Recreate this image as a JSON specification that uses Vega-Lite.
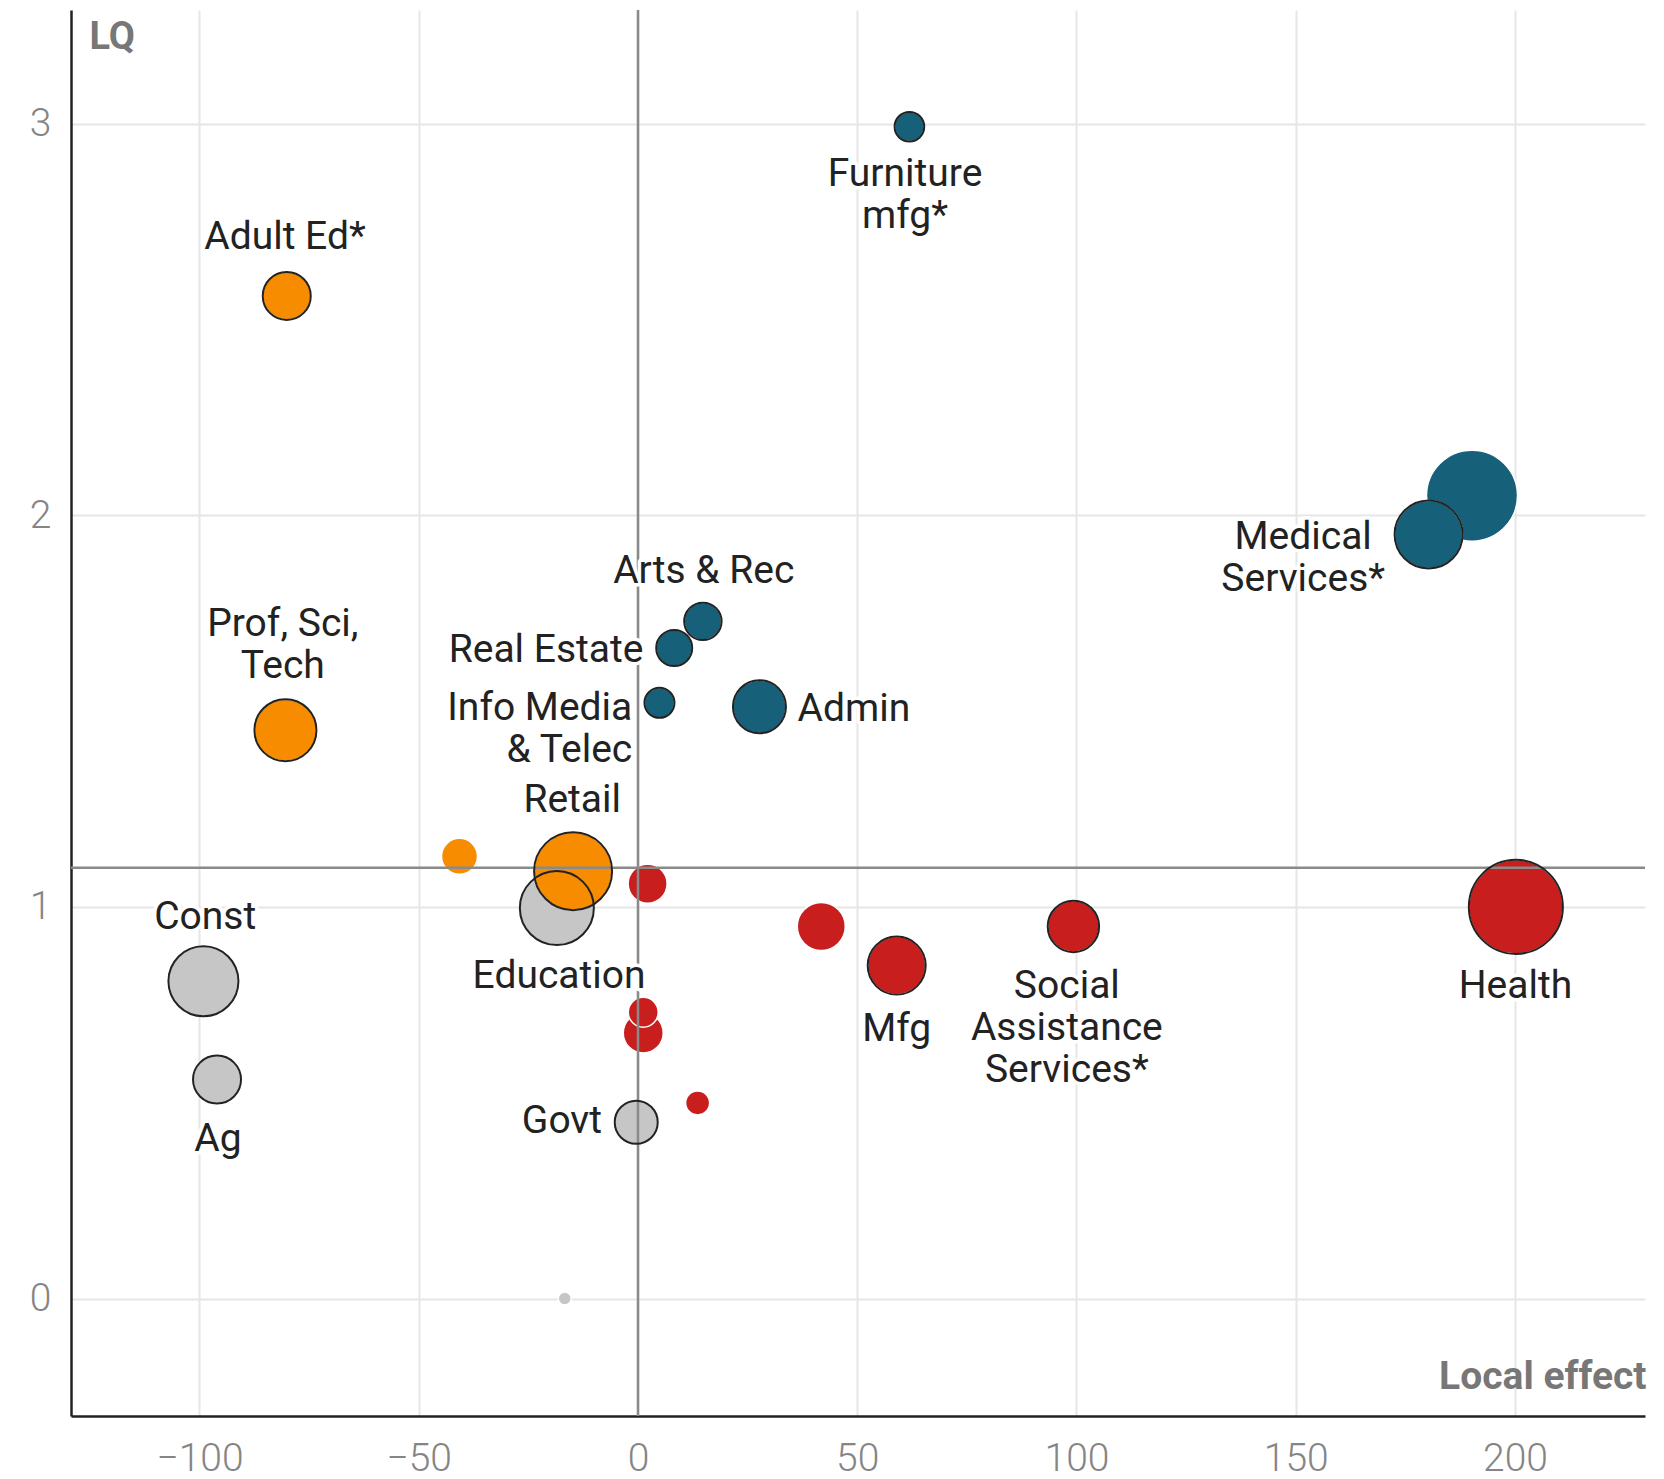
{
  "$schema": "https://vega.github.io/schema/vega-lite/v6.json",
  "width": 1574,
  "height": 1406,
  "autosize": {"type": "none"},
  "padding": {"left": 71, "top": 10, "right": 19, "bottom": 63},
  "background": "white",
  "config": {"view": {"stroke": null}, "font": "Roboto"},
  "datasets": {
    "industries": [
      {"name": "Medical Services (all)", "label": null, "side": null, "effect": 190.2, "lq": 2.05, "jobs": 2070, "group": "Specialized, growing"},
      {"name": "Medical Services", "label": "Medical|Services*", "side": "below", "effect": 180.3, "lq": 1.951, "jobs": 1156, "group": "Specialized, growing", "lx": 151.7, "ly": 1.913},
      {"name": "Health", "label": "Health", "side": "below", "effect": 200.2, "lq": 1.0, "jobs": 2209, "group": "Not specialized, growing", "lx": 200.1, "ly": 0.768},
      {"name": "Education", "label": "Education", "side": "below", "effect": -18.5, "lq": 0.997, "jobs": 1369, "group": "Not specialized, shrinking", "lx": -18.0, "ly": 0.793},
      {"name": "Retail", "label": "Retail", "side": "above", "effect": -14.8, "lq": 1.091, "jobs": 1521, "group": "Specialized, shrinking", "lx": -15.0, "ly": 1.243},
      {"name": "Construction", "label": "Const", "side": "above", "effect": -99.1, "lq": 0.81, "jobs": 1225, "group": "Not specialized, shrinking", "lx": -98.7, "ly": 0.944},
      {"name": "Professional, Scientific, Technical", "label": "Prof, Sci,|Tech", "side": "above", "effect": -80.4, "lq": 1.451, "jobs": 961, "group": "Specialized, shrinking", "lx": -81.0, "ly": 1.691},
      {"name": "Manufacturing", "label": "Mfg", "side": "below", "effect": 59.0, "lq": 0.85, "jobs": 841, "group": "Not specialized, growing", "lx": 59.0, "ly": 0.657},
      {"name": "Administrative", "label": "Admin", "side": "right", "effect": 27.7, "lq": 1.511, "jobs": 702, "group": "Specialized, growing", "lx": 36.4, "ly": 1.474},
      {"name": "Social Assistance Services", "label": "Social|Assistance|Services*", "side": "below", "effect": 99.3, "lq": 0.95, "jobs": 660, "group": "Not specialized, growing", "lx": 97.8, "ly": 0.768},
      {"name": "Other A", "label": null, "side": null, "effect": 41.8, "lq": 0.95, "jobs": 576, "group": "Not specialized, growing"},
      {"name": "Adult Education", "label": "Adult Ed*", "side": "above", "effect": -80.1, "lq": 2.56, "jobs": 576, "group": "Specialized, shrinking", "lx": -80.5, "ly": 2.679},
      {"name": "Agriculture", "label": "Ag", "side": "below", "effect": -96.0, "lq": 0.559, "jobs": 576, "group": "Not specialized, shrinking", "lx": -95.8, "ly": 0.376},
      {"name": "Government", "label": "Govt", "side": "left", "effect": -0.4, "lq": 0.45, "jobs": 462, "group": "Not specialized, shrinking", "lx": -8.2, "ly": 0.423},
      {"name": "Other B", "label": null, "side": null, "effect": 1.2, "lq": 0.678, "jobs": 400, "group": "Not specialized, growing"},
      {"name": "Other C", "label": null, "side": null, "effect": 2.2, "lq": 1.059, "jobs": 380, "group": "Not specialized, growing"},
      {"name": "Arts & Recreation", "label": "Arts & Rec", "side": "above", "effect": 14.8, "lq": 1.729, "jobs": 350, "group": "Specialized, growing", "lx": 15.0, "ly": 1.827},
      {"name": "Real Estate", "label": "Real Estate", "side": "left", "effect": 8.26, "lq": 1.661, "jobs": 324, "group": "Specialized, growing", "lx": 1.25, "ly": 1.625},
      {"name": "Other D", "label": null, "side": null, "effect": -40.7, "lq": 1.129, "jobs": 324, "group": "Specialized, shrinking"},
      {"name": "Information Media & Telecommunications", "label": "Info Media\u2002|& Telec", "side": "left", "effect": 4.9, "lq": 1.521, "jobs": 225, "group": "Specialized, growing", "lx": -1.3, "ly": 1.478},
      {"name": "Furniture Manufacturing", "label": "Furniture|mfg*", "side": "below", "effect": 61.9, "lq": 2.992, "jobs": 219, "group": "Specialized, growing", "lx": 60.9, "ly": 2.84},
      {"name": "Other E", "label": null, "side": null, "effect": 1.2, "lq": 0.731, "jobs": 225, "group": "Not specialized, growing"},
      {"name": "Other F", "label": null, "side": null, "effect": 13.6, "lq": 0.4995, "jobs": 144, "group": "Not specialized, growing"},
      {"name": "Other G", "label": null, "side": null, "effect": -16.7, "lq": 0.0, "jobs": 42, "group": "Not specialized, shrinking"}
    ]
  },
  "layer": [
    {
      "data": {"name": "industries"},
      "mark": {"type": "circle", "opacity": 1, "stroke": "white", "strokeWidth": 1.5},
      "encoding": {
        "x": {
          "field": "effect", "type": "quantitative",
          "scale": {"domain": [-129.3, 229.65], "nice": false, "zero": false},
          "axis": {
            "values": [-100, -50, 0, 50, 100, 150, 200], "format": "d",
            "grid": true, "gridColor": "#e6e6e6", "gridWidth": 2,
            "ticks": false, "domain": true, "domainColor": "#222222", "domainWidth": 2.5,
            "labelFont": "Roboto", "labelFontSize": 39, "labelFontWeight": 300, "labelColor": "#858585",
            "labelPadding": 23, "labelFlush": false,
            "title": "Local effect", "titleFont": "Roboto", "titleFontSize": 39, "titleFontWeight": "bold",
            "titleColor": "#777777", "titleAlign": "right", "titleBaseline": "alphabetic",
            "titleAnchor": null, "titleX": 1575, "titleY": -28
          }
        },
        "y": {
          "field": "lq", "type": "quantitative",
          "scale": {"domain": [-0.3, 3.29], "nice": false, "zero": false},
          "axis": {
            "values": [0, 1, 2, 3], "format": "d",
            "grid": true, "gridColor": "#e6e6e6", "gridWidth": 2,
            "ticks": false, "domain": true, "domainColor": "#222222", "domainWidth": 2.5,
            "labelFont": "Roboto", "labelFontSize": 39, "labelFontWeight": 300, "labelColor": "#858585",
            "labelPadding": 20, "labelFlush": false,
            "title": "LQ", "titleFont": "Roboto", "titleFontSize": 38, "titleFontWeight": "bold",
            "titleColor": "#777777", "titleAngle": 0, "titleAlign": "left", "titleBaseline": "alphabetic",
            "titleAnchor": null, "titleX": 18, "titleY": 38
          }
        },
        "size": {"field": "jobs", "type": "quantitative", "scale": {"domain": [0, 2500], "range": [0, 10000], "zero": true}, "legend": null},
        "color": {
          "field": "group", "type": "nominal",
          "scale": {
            "domain": ["Specialized, growing", "Specialized, shrinking", "Not specialized, growing", "Not specialized, shrinking"],
            "range": ["#17607a", "#f78c00", "#c81e1e", "#c6c6c6"]
          },
          "legend": null
        }
      }
    },
    {
      "data": {"values": [{"effect": 0}]},
      "mark": {"type": "rule", "color": "#8a8a8a", "strokeWidth": 2.5},
      "encoding": {"x": {"field": "effect", "type": "quantitative"}}
    },
    {
      "data": {"values": [{"lq": 1.1}]},
      "mark": {"type": "rule", "color": "#8a8a8a", "strokeWidth": 2.5},
      "encoding": {"y": {"field": "lq", "type": "quantitative"}}
    },
    {
      "data": {"name": "industries"},
      "transform": [{"filter": "isValid(datum.label)"}],
      "mark": {"type": "point", "shape": "circle", "filled": false, "stroke": "#222222", "strokeWidth": 2, "opacity": 1},
      "encoding": {
        "x": {"field": "effect", "type": "quantitative"},
        "y": {"field": "lq", "type": "quantitative"},
        "size": {"field": "jobs", "type": "quantitative", "legend": null}
      }
    },
    {
      "data": {"name": "industries"},
      "transform": [{"filter": "isValid(datum.label) && (datum.side === 'above' || datum.side === 'below')"}],
      "mark": {"type": "text", "align": "center", "baseline": "alphabetic", "lineBreak": "|", "lineHeight": 42, "font": "Roboto", "fontSize": 39, "stroke": "white", "strokeWidth": 7, "strokeJoin": "round", "fill": "white"},
      "encoding": {"x": {"field": "lx", "type": "quantitative"}, "y": {"field": "ly", "type": "quantitative"}, "text": {"field": "label"}}
    },
    {
      "data": {"name": "industries"},
      "transform": [{"filter": "datum.side === 'left'"}],
      "mark": {"type": "text", "align": "right", "baseline": "alphabetic", "lineBreak": "|", "lineHeight": 42, "font": "Roboto", "fontSize": 39, "stroke": "white", "strokeWidth": 7, "strokeJoin": "round", "fill": "white"},
      "encoding": {"x": {"field": "lx", "type": "quantitative"}, "y": {"field": "ly", "type": "quantitative"}, "text": {"field": "label"}}
    },
    {
      "data": {"name": "industries"},
      "transform": [{"filter": "datum.side === 'right'"}],
      "mark": {"type": "text", "align": "left", "baseline": "alphabetic", "lineBreak": "|", "lineHeight": 42, "font": "Roboto", "fontSize": 39, "stroke": "white", "strokeWidth": 7, "strokeJoin": "round", "fill": "white"},
      "encoding": {"x": {"field": "lx", "type": "quantitative"}, "y": {"field": "ly", "type": "quantitative"}, "text": {"field": "label"}}
    },
    {
      "data": {"name": "industries"},
      "transform": [{"filter": "isValid(datum.label) && (datum.side === 'above' || datum.side === 'below')"}],
      "mark": {"type": "text", "align": "center", "baseline": "alphabetic", "lineBreak": "|", "lineHeight": 42, "font": "Roboto", "fontSize": 39, "fill": "#222222"},
      "encoding": {"x": {"field": "lx", "type": "quantitative"}, "y": {"field": "ly", "type": "quantitative"}, "text": {"field": "label"}}
    },
    {
      "data": {"name": "industries"},
      "transform": [{"filter": "datum.side === 'left'"}],
      "mark": {"type": "text", "align": "right", "baseline": "alphabetic", "lineBreak": "|", "lineHeight": 42, "font": "Roboto", "fontSize": 39, "fill": "#222222"},
      "encoding": {"x": {"field": "lx", "type": "quantitative"}, "y": {"field": "ly", "type": "quantitative"}, "text": {"field": "label"}}
    },
    {
      "data": {"name": "industries"},
      "transform": [{"filter": "datum.side === 'right'"}],
      "mark": {"type": "text", "align": "left", "baseline": "alphabetic", "lineBreak": "|", "lineHeight": 42, "font": "Roboto", "fontSize": 39, "fill": "#222222"},
      "encoding": {"x": {"field": "lx", "type": "quantitative"}, "y": {"field": "ly", "type": "quantitative"}, "text": {"field": "label"}}
    }
  ]
}
